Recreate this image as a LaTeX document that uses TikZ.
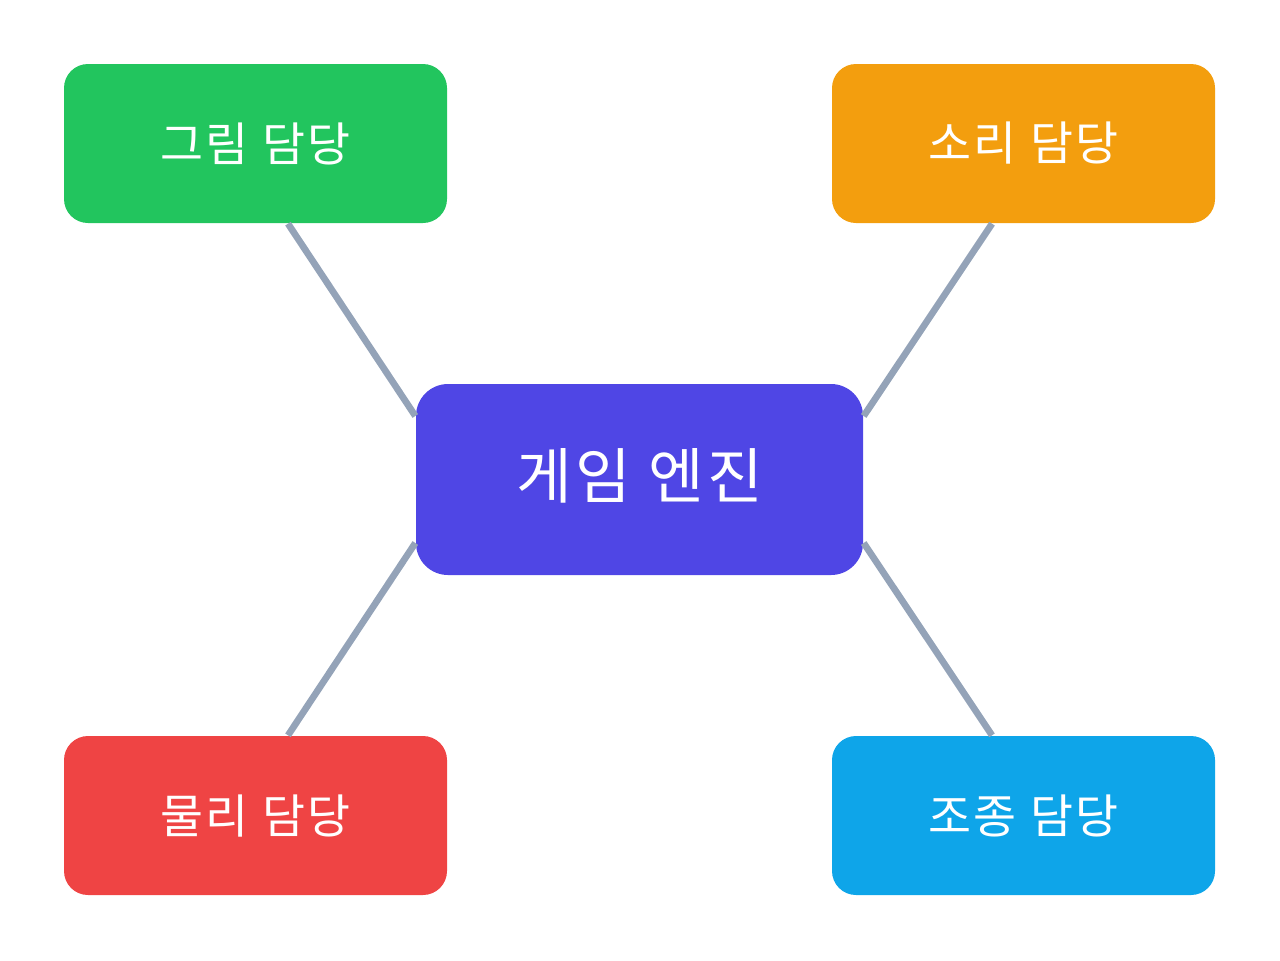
\documentclass[tikz,border=0pt]{standalone}
\usepackage{fontspec}
\newfontfamily\cjk[LetterSpace=6]{Noto Sans CJK KR}
\usetikzlibrary{calc}
\usetikzlibrary{positioning}
\definecolor{enginecol}{HTML}{4F46E5}
\definecolor{drawcol}{HTML}{22C55E}
\definecolor{soundcol}{HTML}{F39E0E}
\definecolor{physcol}{HTML}{EF4444}
\definecolor{ctrlcol}{HTML}{0EA5E9}
\definecolor{linkcol}{HTML}{94A3B8}
\tikzstyle{partnode} = [rectangle, rounded corners=0.24cm, minimum width=3.83cm, minimum height=1.59cm, inner sep=0, text=white, font=\cjk\fontsize{13.3}{15}\selectfont]
\tikzstyle{corenode} = [rectangle, rounded corners=0.32cm, minimum width=4.47cm, minimum height=1.91cm, inner sep=0, text=white, font=\cjk\fontsize{17.2}{19}\selectfont]
\tikzstyle{linkline} = [draw=linkcol, line width=1.9pt]

\begin{document}
\begin{tikzpicture}
\useasboundingbox (0,0) rectangle (12.8,9.6);
\node[corenode, fill=enginecol] (engine) at (6.395,4.805) {\raisebox{0.12cm}{게임 엔진}};
\node[partnode, fill=drawcol] (draw) at (2.555,8.165) {그림 담당};
\node[partnode, fill=soundcol] (sound) at (10.235,8.165) {소리 담당};
\node[partnode, fill=physcol] (phys) at (2.555,1.445) {물리 담당};
\node[partnode, fill=ctrlcol] (ctrl) at (10.235,1.445) {조종 담당};

\draw[linkline] ([xshift=0.325cm]draw.south) -- ([yshift=0.635cm]engine.west);
\draw[linkline] ([xshift=-0.315cm]sound.south) -- ([yshift=0.635cm]engine.east);
\draw[linkline] ([yshift=-0.635cm]engine.west) -- ([xshift=0.325cm]phys.north);
\draw[linkline] ([yshift=-0.635cm]engine.east) -- ([xshift=-0.315cm]ctrl.north);
\end{tikzpicture}
\end{document}
